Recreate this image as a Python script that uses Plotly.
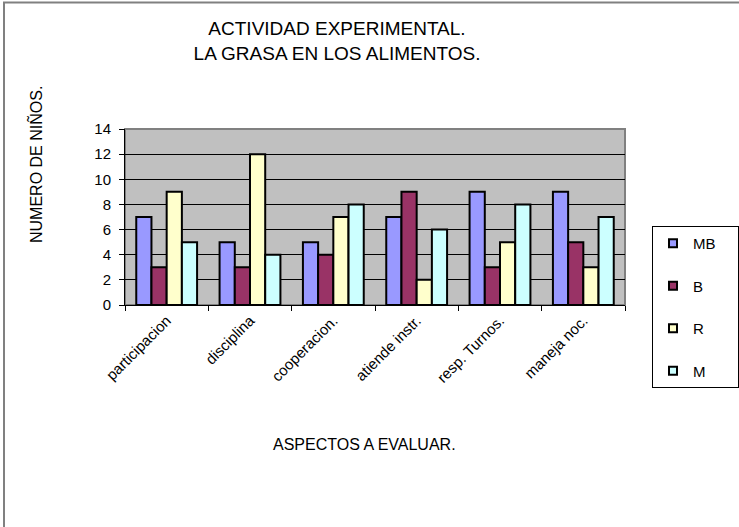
import plotly.graph_objects as go

categories = ["participacion", "disciplina", "cooperacion.", "atiende instr.", "resp. Turnos.", "maneja noc."]
series_names = ["MB", "B", "R", "M"]
mb = [7, 5, 5, 7, 9, 9]
b = [3, 3, 4, 9, 3, 5]
r = [9, 12, 7, 2, 5, 3]
m = [5, 4, 8, 6, 8, 7]
y_ticks = [0, 2, 4, 6, 8, 10, 12, 14]

colors = ["#9999FF", "#993366", "#FFFFCC", "#CCFFFF"]
FONT = "Liberation Sans, Arial, sans-serif"

fig = go.Figure()
for i, (name, vals) in enumerate(zip(series_names, [mb, b, r, m])):
    fig.add_trace(go.Bar(
        x=categories, y=vals, name=name,
        legendgroup=name, showlegend=False,
        marker=dict(color=colors[i], line=dict(color="black", width=2)),
    ))
# legend entries with small square keys (Excel style)
for i, name in enumerate(series_names):
    fig.add_trace(go.Scatter(
        x=[None], y=[None], mode="markers",
        name=name + "\u00a0\u00a0\u00a0\u00a0",
        legendgroup=name, showlegend=True,
        marker=dict(symbol="square", size=8, color=colors[i],
                    line=dict(color="black", width=2)),
    ))

W, H = 739, 527
L, R, T, B = 125, 114, 129, 222
pw, ph = W - L - R, H - T - B

def px_x(px):
    return (px - L) / pw

def px_y(py):
    return (H - B - py) / ph

fig.update_layout(
    width=W, height=H,
    margin=dict(l=L, r=R, t=T, b=B, pad=0, autoexpand=False),
    paper_bgcolor="white",
    plot_bgcolor="#C0C0C0",
    barmode="group",
    bargap=0.27,
    bargroupgap=0,
    font=dict(family=FONT, color="black", size=13),
    title=dict(
        text="ACTIVIDAD EXPERIMENTAL.<br>LA GRASA EN LOS ALIMENTOS.",
        x=337 / W, xanchor="center",
        y=1 - 35 / H, yanchor="top",
        font=dict(family=FONT, size=19, color="black"),
    ),
    legend=dict(
        xref="container", yref="container",
        x=652 / W, xanchor="left",
        y=1 - 226 / H, yanchor="top",
        bgcolor="white", bordercolor="black", borderwidth=1,
        tracegroupgap=20,
        font=dict(family=FONT, size=15, color="black"),
    ),
    showlegend=True,
)

fig.update_xaxes(
    type="category",
    showgrid=False,
    showline=True, linecolor="black", linewidth=1,
    ticks="outside", ticklen=5, tickcolor="black", tickwidth=1,
    tickson="boundaries",
    tickangle=-45,
    tickfont=dict(family=FONT, size=15, color="black"),
    zeroline=False,
)
fig.update_yaxes(
    range=[0, 14],
    tickvals=y_ticks,
    showgrid=True, gridcolor="black", gridwidth=1,
    showline=True, linecolor="black", linewidth=1,
    ticks="outside", ticklen=5, tickcolor="black", tickwidth=1,
    ticklabelstandoff=5,
    tickfont=dict(family=FONT, size=15, color="black"),
    zeroline=False,
)

# plot area frame (gray, Excel style)
fig.add_shape(type="rect", xref="x domain", yref="y domain", x0=0, x1=1, y0=0, y1=1,
              line=dict(color="#808080", width=2), layer="below")

# outer chart border (left and top only visible)
fig.add_shape(type="path", xref="paper", yref="paper",
              path=f"M {px_x(4)},{px_y(530)} L {px_x(4)},{px_y(2.5)} L {px_x(742)},{px_y(2.5)}",
              line=dict(color="#808080", width=2))

fig.add_annotation(text="ASPECTOS A EVALUAR.", xref="paper", yref="paper",
                   x=px_x(364), y=px_y(444), xanchor="center", yanchor="middle",
                   showarrow=False, font=dict(family=FONT, size=16, color="black"))
fig.add_annotation(text="NUMERO DE NIÑOS.", xref="paper", yref="paper",
                   x=px_x(35), y=px_y(165), xanchor="center", yanchor="middle",
                   textangle=-90,
                   showarrow=False, font=dict(family=FONT, size=16, color="black"))

fig.write_html("out.html")
